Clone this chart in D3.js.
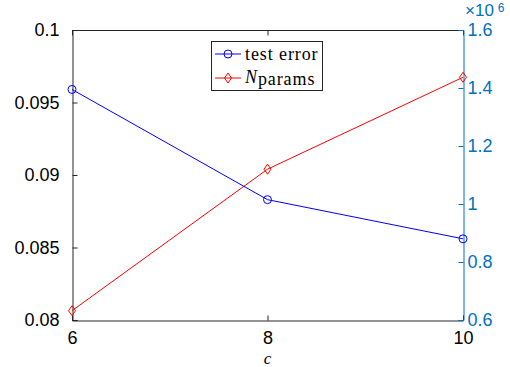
<!DOCTYPE html>
<html><head><meta charset="utf-8">
<script src="https://cdn.jsdelivr.net/npm/d3@7"></script>
<style>body{margin:0;background:#fff;} svg{display:block;}</style>
</head><body>
<script>
const cValues = [6, 8, 10];
const testError = [0.0959, 0.0883, 0.0856];
const nParams = [0.632e6, 1.120e6, 1.437e6];
const leftTicks = [0.08, 0.085, 0.09, 0.095, 0.1];
const rightTicks = [0.6e6, 0.8e6, 1.0e6, 1.2e6, 1.4e6, 1.6e6];
const xTicks = [6, 8, 10];

const W = 510, H = 367;
const m = {l: 72, r: 463, t: 30, b: 320};
const blueAxis = "#0072BD";
const svg = d3.select("body").append("svg").attr("width", W).attr("height", H);

const x = d3.scaleLinear().domain([6, 10]).range([m.l, m.r]);
const yL = d3.scaleLinear().domain([0.08, 0.1]).range([m.b, m.t]);
const yR = d3.scaleLinear().domain([0.6e6, 1.6e6]).range([m.b, m.t]);

const font = "'Liberation Sans', Arial, Helvetica, sans-serif";
const fs = 18;

svg.append("line").attr("x1", m.l).attr("x2", m.r).attr("y1", m.t + 0.5).attr("y2", m.t + 0.5).attr("stroke", "#262626");

const xb = svg.append("g").attr("transform", `translate(0,${m.b + 0.5})`)
  .call(d3.axisBottom(x).tickValues(xTicks).tickSize(-5).tickPadding(11).tickFormat(d3.format("d")));
xb.select(".domain").attr("stroke", "#262626");
xb.selectAll(".tick line").attr("stroke", "#262626");
xb.selectAll("text").attr("font-family", font).attr("font-size", fs).attr("fill", "#000");

const xt = svg.append("g").attr("transform", `translate(0,${m.t + 0.5})`)
  .call(d3.axisTop(x).tickValues(xTicks).tickSize(-5).tickFormat(""));
xt.select(".domain").remove();
xt.selectAll(".tick line").attr("stroke", "#262626");

const yl = svg.append("g").attr("transform", `translate(${m.l + 0.5},0)`)
  .call(d3.axisLeft(yL).tickValues(leftTicks).tickSize(-5).tickPadding(13).tickFormat(d => d3.format("")(+d.toFixed(3))));
yl.select(".domain").attr("stroke", "#262626");
yl.selectAll(".tick line").attr("stroke", "#262626");
yl.selectAll("text").attr("font-family", font).attr("font-size", fs).attr("fill", "#000");

const yr = svg.append("g").attr("transform", `translate(${m.r + 0.5},0)`)
  .call(d3.axisRight(yR).tickValues(rightTicks).tickSize(-5).tickPadding(4).tickFormat(d => d3.format("")(+(d / 1e6).toFixed(1))));
yr.select(".domain").attr("stroke", blueAxis);
yr.selectAll(".tick line").attr("stroke", blueAxis);
yr.selectAll("text").attr("font-family", font).attr("font-size", fs).attr("fill", blueAxis);

const ex = svg.append("text").attr("x", 465).attr("y", 16).attr("font-family", font).attr("font-size", 17).attr("fill", blueAxis);
ex.append("tspan").text("\u00D710");
ex.append("tspan").attr("dy", -4).attr("dx", 4).attr("font-size", 12).text("6");

svg.append("text").attr("x", x(8)).attr("y", 364).attr("text-anchor", "middle")
  .attr("font-family", "'Liberation Serif', serif").attr("font-style", "italic").attr("font-size", 17).text("c");

const lineL = d3.line().x((d, i) => x(cValues[i])).y(d => yL(d));
const lineR = d3.line().x((d, i) => x(cValues[i])).y(d => yR(d));

svg.append("path").datum(nParams).attr("d", lineR).attr("fill", "none").attr("stroke", "#ff0000").attr("stroke-width", 1);
svg.selectAll(".dia").data(nParams).enter().append("path")
  .attr("transform", (d, i) => `translate(${x(cValues[i])},${yR(d)})`)
  .attr("d", "M0,-5L3.5,0L0,5L-3.5,0Z").attr("fill", "none").attr("stroke", "#ff0000");

svg.append("path").datum(testError).attr("d", lineL).attr("fill", "none").attr("stroke", "#0000ff").attr("stroke-width", 1);
svg.selectAll(".circ").data(testError).enter().append("circle")
  .attr("cx", (d, i) => x(cValues[i])).attr("cy", d => yL(d)).attr("r", 4)
  .attr("fill", "none").attr("stroke", "#0000ff");

const lg = svg.append("g");
lg.append("rect").attr("x", 211.5).attr("y", 41.5).attr("width", 111).attr("height", 49)
  .attr("fill", "#fff").attr("stroke", "#262626");
const items = [
  {color: "#0000ff", y: 54, marker: "circle"},
  {color: "#ff0000", y: 78, marker: "diamond"}
];
items.forEach(it => {
  lg.append("line").attr("x1", 215).attr("x2", 241).attr("y1", it.y).attr("y2", it.y).attr("stroke", it.color);
  if (it.marker === "circle") {
    lg.append("circle").attr("cx", 228).attr("cy", it.y).attr("r", 4).attr("fill", "none").attr("stroke", it.color);
  } else {
    lg.append("path").attr("transform", `translate(228,${it.y})`).attr("d", "M0,-5L3.5,0L0,5L-3.5,0Z").attr("fill", "none").attr("stroke", it.color);
  }
});
lg.append("text").attr("x", 245).attr("y", 60).attr("font-family", "'Liberation Serif', serif").attr("font-size", 18)
  .attr("letter-spacing", 0.9).text("test error");
const t2 = lg.append("text").attr("x", 245).attr("y", 83).attr("font-family", "'Liberation Serif', serif").attr("font-size", 18).attr("letter-spacing", 0.9);
t2.append("tspan").attr("font-style", "italic").text("N");
t2.append("tspan").attr("dy", 2).text("params");
</script>
</body></html>
